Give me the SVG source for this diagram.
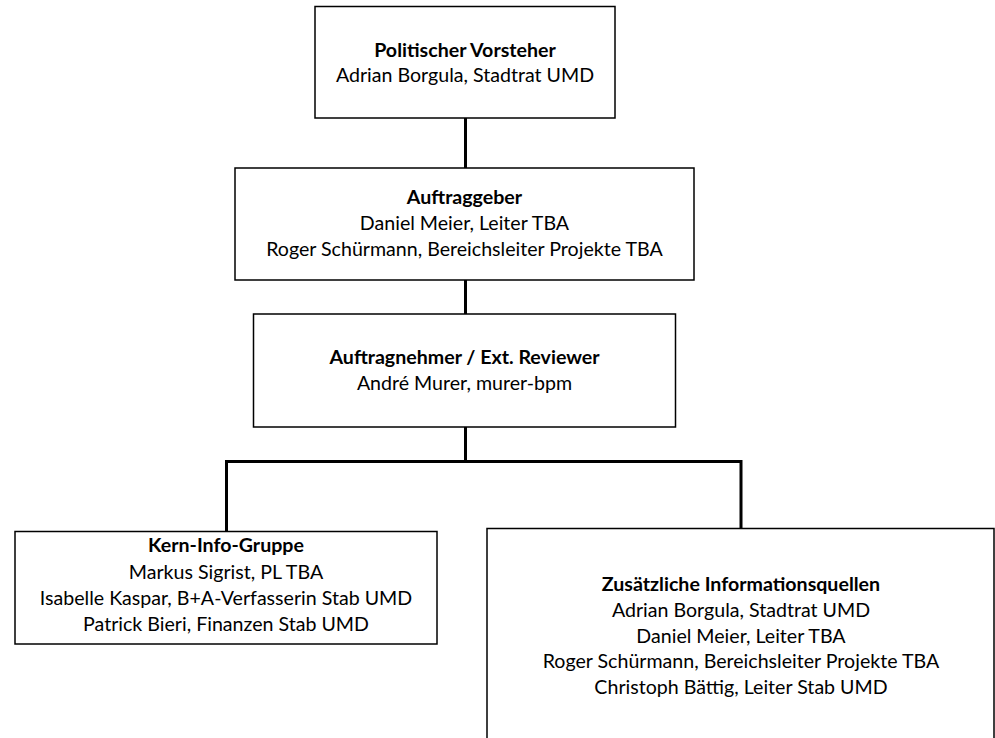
<svg xmlns="http://www.w3.org/2000/svg" width="995" height="738" viewBox="0 0 995 738">
<style>
.box{fill:#fff;stroke:#000;stroke-width:1.5}
.t{font-family:Lato,"Open Sans","Liberation Sans",sans-serif;font-size:19.6px;fill:#000;text-anchor:middle}
.b{font-weight:bold}
.c{fill:none;stroke:#000;stroke-width:3}
</style>
<rect width="995" height="738" fill="#fff"/>
<g id="connectors">
<line class="c" x1="465.5" y1="118" x2="465.5" y2="168"/>
<line class="c" x1="465.5" y1="280" x2="465.5" y2="314"/>
<line class="c" x1="465.5" y1="427" x2="465.5" y2="461.5"/>
<polyline class="c" points="226.5,531 226.5,461.5 741,461.5 741,528"/>
</g>
<g id="n1">
<rect class="box" x="315" y="6.5" width="300" height="111.5"/>
<text class="t b" x="465" y="57">Politischer Vorsteher</text>
<text class="t" x="465" y="82">Adrian Borgula, Stadtrat UMD</text>
</g>
<g id="n2">
<rect class="box" x="235" y="168" width="459" height="112"/>
<text class="t b" x="464.5" y="204">Auftraggeber</text>
<text class="t" x="464.5" y="230">Daniel Meier, Leiter TBA</text>
<text class="t" x="464.5" y="256">Roger Schürmann, Bereichsleiter Projekte TBA</text>
</g>
<g id="n3">
<rect class="box" x="253.5" y="314" width="422" height="113"/>
<text class="t b" x="464.5" y="364">Auftragnehmer / Ext. Reviewer</text>
<text class="t" x="464.5" y="390">André Murer, murer-bpm</text>
</g>
<g id="n4">
<rect class="box" x="15" y="531.5" width="422" height="112.5"/>
<text class="t b" x="226" y="552">Kern-Info-Gruppe</text>
<text class="t" x="226" y="579">Markus Sigrist, PL TBA</text>
<text class="t" x="226" y="605">Isabelle Kaspar, B+A-Verfasserin Stab UMD</text>
<text class="t" x="226" y="631">Patrick Bieri, Finanzen Stab UMD</text>
</g>
<g id="n5">
<rect class="box" x="487" y="528.5" width="507" height="230"/>
<text class="t b" x="741" y="591">Zusätzliche Informationsquellen</text>
<text class="t" x="741" y="617">Adrian Borgula, Stadtrat UMD</text>
<text class="t" x="741" y="643">Daniel Meier, Leiter TBA</text>
<text class="t" x="741" y="668">Roger Schürmann, Bereichsleiter Projekte TBA</text>
<text class="t" x="741" y="694">Christoph Bättig, Leiter Stab UMD</text>
</g>
</svg>
